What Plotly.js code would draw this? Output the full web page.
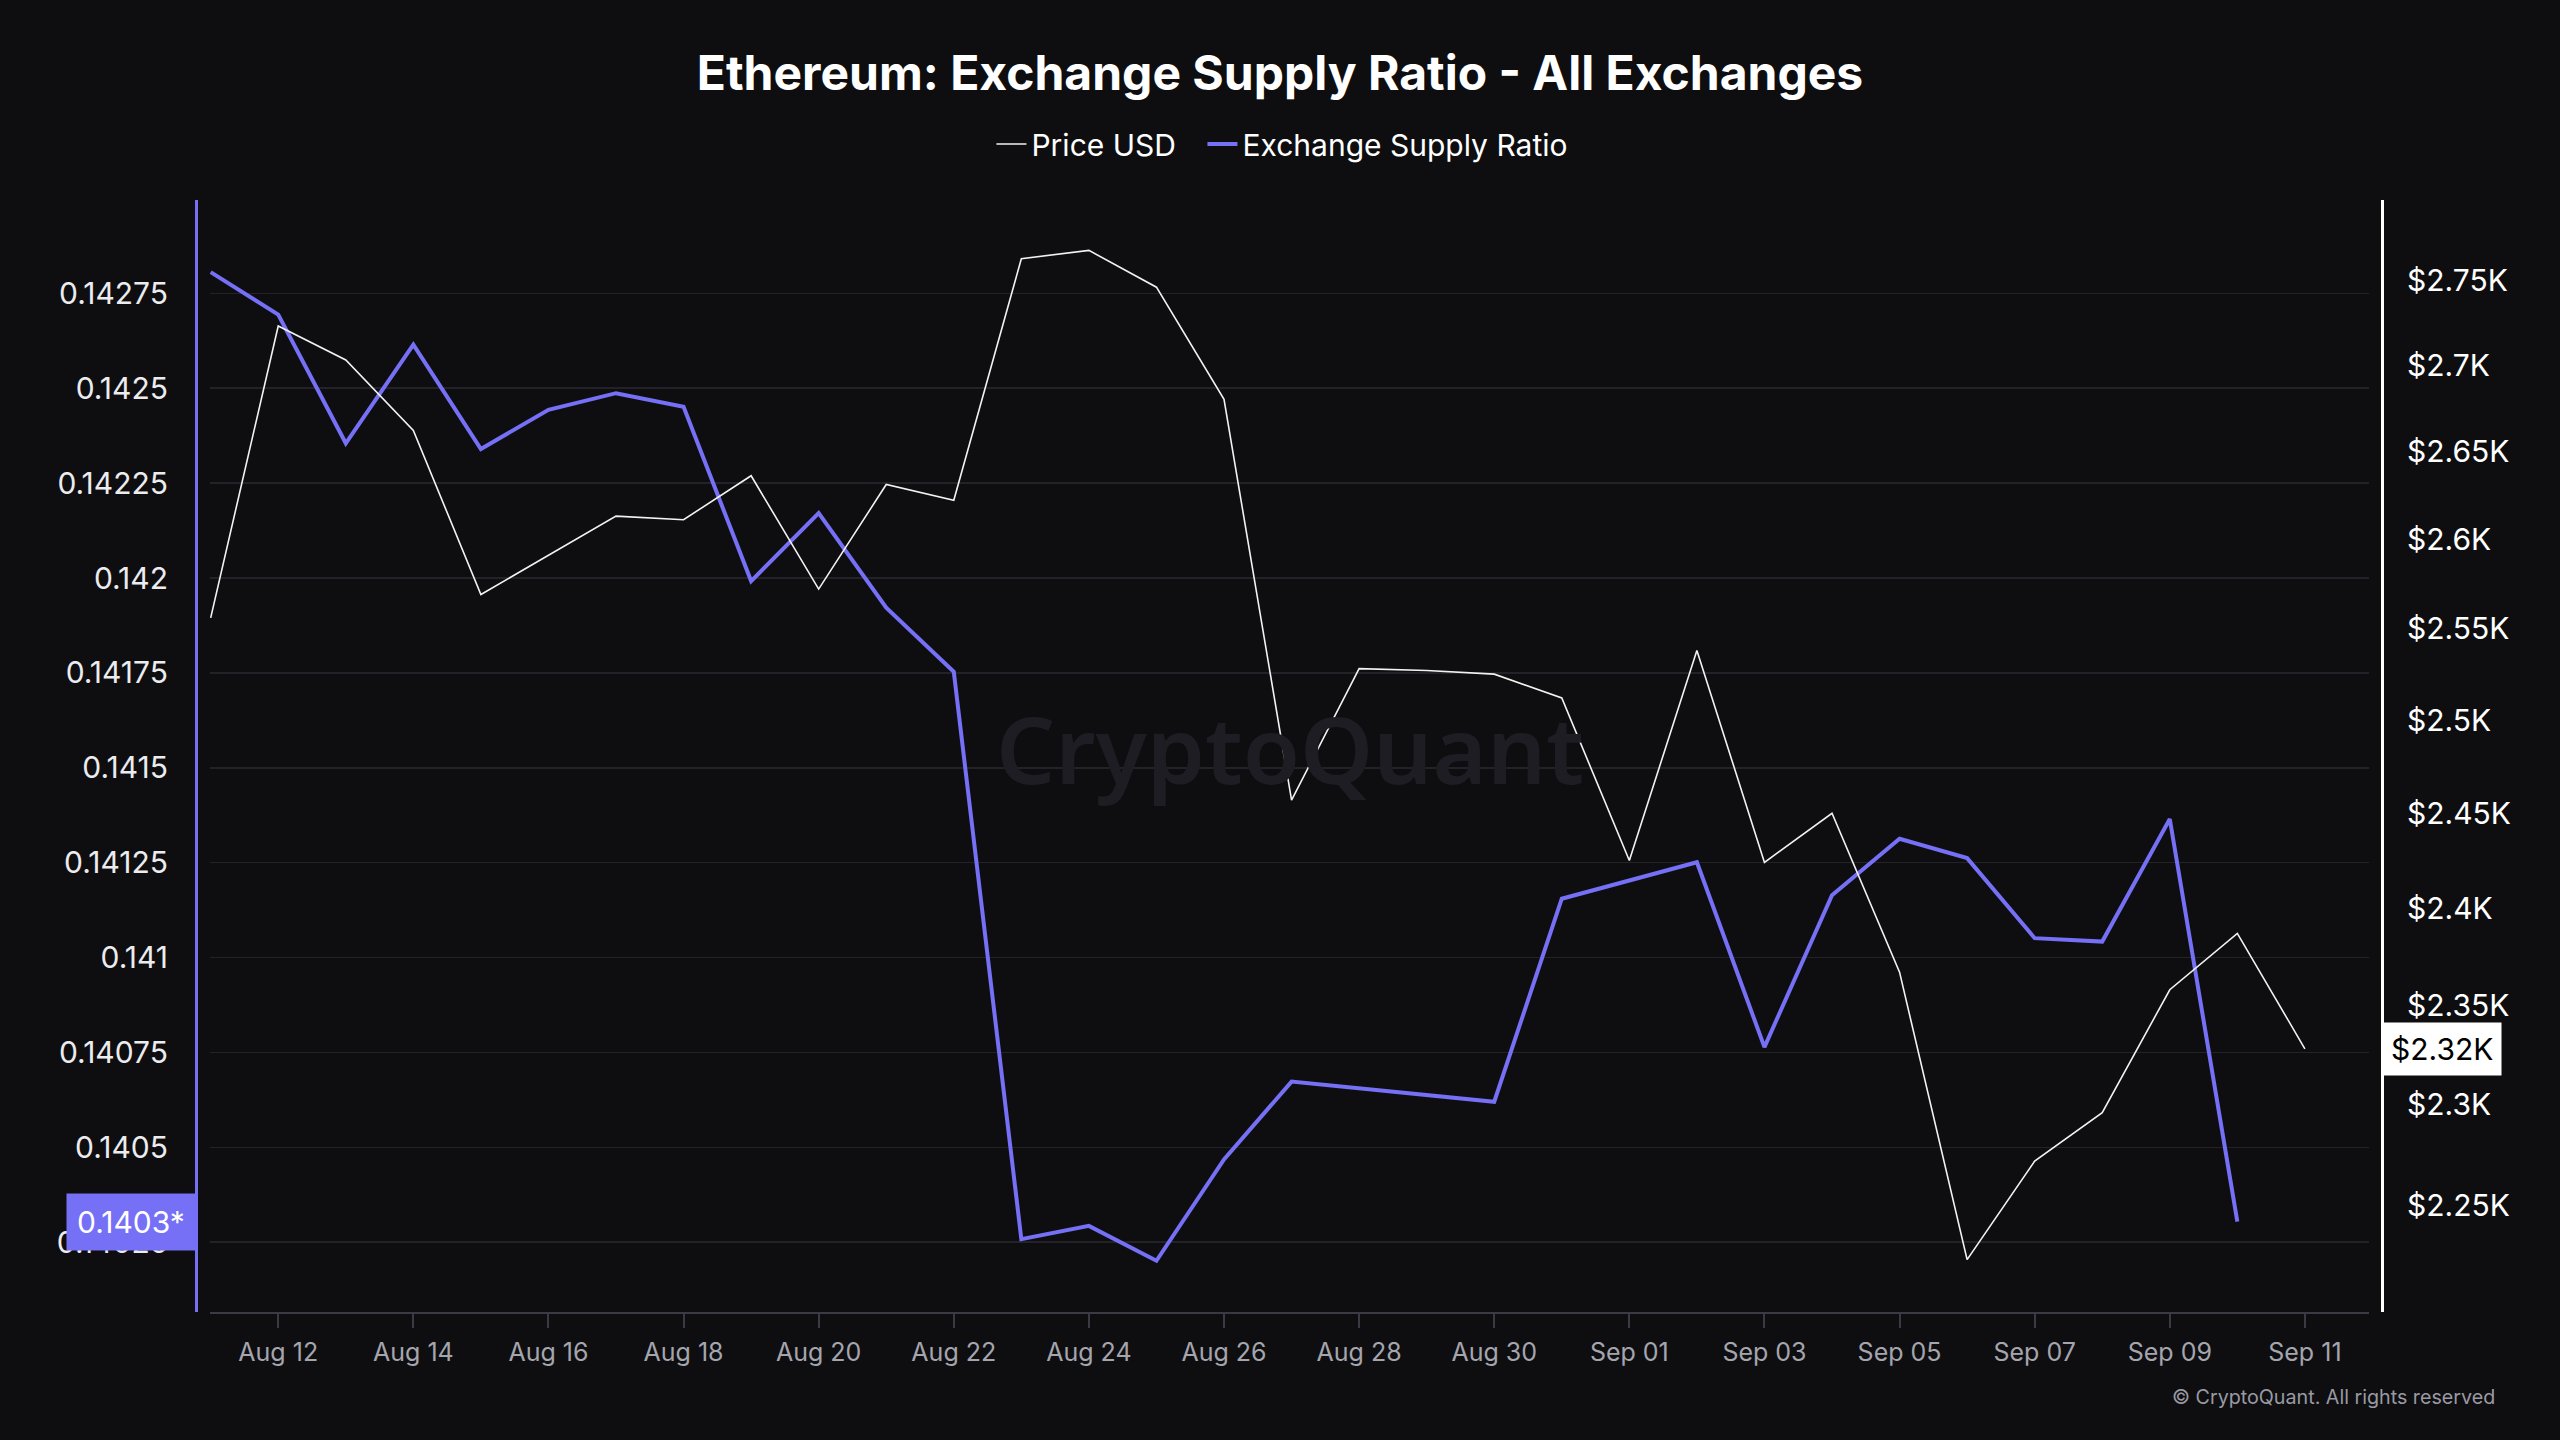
<!DOCTYPE html>
<html>
<head>
<meta charset="utf-8">
<script src="https://cdn.plot.ly/plotly-3.0.1.min.js"></script>
<style>
html,body{margin:0;padding:0;background:#0e0e11;}
#chart{width:2560px;height:1440px;}
</style>
</head>
<body>
<div id="chart"></div>
<script>
// ---- data ----
const priceDates = [
  '2024-08-11','2024-08-12','2024-08-13','2024-08-14','2024-08-15','2024-08-16','2024-08-17','2024-08-18',
  '2024-08-19','2024-08-20','2024-08-21','2024-08-22','2024-08-23','2024-08-24','2024-08-25','2024-08-26',
  '2024-08-27','2024-08-28','2024-08-29','2024-08-30','2024-08-31','2024-09-01','2024-09-02','2024-09-03',
  '2024-09-04','2024-09-05','2024-09-06','2024-09-07','2024-09-08','2024-09-09','2024-09-10','2024-09-11'
];
const priceUSD = [
  2556, 2723, 2703, 2662, 2569, 2591, 2613, 2611,
  2636, 2572, 2631, 2622, 2763, 2768, 2746, 2680,
  2457, 2528, 2527, 2525, 2512, 2425, 2538, 2424,
  2450, 2367, 2224, 2272, 2296, 2358, 2387, 2328
];
const ratioDates = priceDates.slice(0, 31);
const supplyRatio = [
  0.142806, 0.142694, 0.142355, 0.142615, 0.142340, 0.142443, 0.142487, 0.142451,
  0.141992, 0.142171, 0.141922, 0.141753, 0.140258, 0.140293, 0.140201, 0.140468,
  0.140673, 0.140656, 0.140639, 0.140620, 0.141155, 0.141202, 0.141251, 0.140764,
  0.141164, 0.141313, 0.141262, 0.141051, 0.141042, 0.141365, 0.140304
];
const leftTickVals = [0.14025,0.1405,0.14075,0.141,0.14125,0.1415,0.14175,0.142,0.14225,0.1425,0.14275];
const leftTickText = ['0.14025','0.1405','0.14075','0.141','0.14125','0.1415','0.14175','0.142','0.14225','0.1425','0.14275'];
const rightTickVals = [2250,2300,2350,2400,2450,2500,2550,2600,2650,2700,2750];
const rightTickText = ['$2.25K','$2.3K','$2.35K','$2.4K','$2.45K','$2.5K','$2.55K','$2.6K','$2.65K','$2.7K','$2.75K'];
const xTickVals = ['2024-08-12','2024-08-14','2024-08-16','2024-08-18','2024-08-20','2024-08-22','2024-08-24','2024-08-26',
  '2024-08-28','2024-08-30','2024-09-01','2024-09-03','2024-09-05','2024-09-07','2024-09-09','2024-09-11'];
const xTickText = ['Aug 12','Aug 14','Aug 16','Aug 18','Aug 20','Aug 22','Aug 24','Aug 26',
  'Aug 28','Aug 30','Sep 01','Sep 03','Sep 05','Sep 07','Sep 09','Sep 11'];

const PURPLE = '#7570f5';
const FONT = 'Inter, "Noto Sans", sans-serif';

const lastPrice = priceUSD[priceUSD.length - 1];
const lastRatio = supplyRatio[supplyRatio.length - 1];

const traces = [
  {
    x: priceDates, y: priceUSD, name: 'Price USD', type: 'scatter', mode: 'lines',
    yaxis: 'y2', line: {color: '#f2f2f2', width: 1.6}, legendwidth: 166
  },
  {
    x: ratioDates, y: supplyRatio, name: 'Exchange Supply Ratio', type: 'scatter', mode: 'lines',
    yaxis: 'y', line: {color: PURPLE, width: 4}
  }
];

const layout = {
  width: 2560, height: 1440,
  paper_bgcolor: '#0e0e11', plot_bgcolor: '#0e0e11',
  margin: {l: 196, r: 178, t: 200, b: 128},
  font: {family: FONT, color: '#ffffff'},
  showlegend: true,
  hovermode: false,
  title: {
    text: '<b>Ethereum: Exchange Supply Ratio - All Exchanges</b>',
    font: {family: FONT, size: 48, color: '#ffffff'},
    x: 0.5, xanchor: 'center', xref: 'container',
    y: 1 - 73/1440, yanchor: 'middle', yref: 'container'
  },
  legend: {
    orientation: 'h', x: 0.497, xanchor: 'center', y: 1.0504, yanchor: 'middle',
    font: {family: FONT, size: 30, color: '#ffffff'},
    bgcolor: 'rgba(0,0,0,0)', itemwidth: 30, tracegroupgap: 0
  },
  xaxis: {
    type: 'date',
    domain: [0.0062, 0.994],
    range: ['2024-08-10 23:36', '2024-09-11 22:44'],
    tickvals: xTickVals, ticktext: xTickText,
    tickfont: {family: FONT, size: 25, color: '#a5a5ae'},
    ticks: 'outside', ticklen: 14, tickwidth: 2, tickcolor: '#3a3a44',
    showline: true, linecolor: '#3a3a44', linewidth: 2,
    showgrid: false, zeroline: false, ticklabelstandoff: 3
  },
  yaxis: {
    range: [0.140066, 0.142996],
    anchor: 'free', position: 0,
    tickvals: leftTickVals, ticktext: leftTickText,
    tickfont: {family: FONT, size: 30, color: '#ececef'},
    showline: true, linecolor: PURPLE, linewidth: 3,
    showgrid: true, gridcolor: '#222228', gridwidth: 1.5,
    zeroline: false, ticks: '', ticklabelstandoff: 21
  },
  yaxis2: {
    type: 'log',
    range: [3.34220, 3.44691],
    overlaying: 'y', anchor: 'free', position: 1, side: 'right',
    tickvals: rightTickVals, ticktext: rightTickText,
    tickfont: {family: FONT, size: 30, color: '#ffffff'},
    showline: true, linecolor: '#ffffff', linewidth: 3,
    showgrid: false, zeroline: false, ticks: '', ticklabelstandoff: 17
  },
  annotations: [
    {
      text: 'CryptoQuant', xref: 'paper', yref: 'paper', x: 0.5005, y: 0.507,
      xanchor: 'center', yanchor: 'middle', showarrow: false,
      font: {family: '"Noto Sans", sans-serif', size: 93, color: '#1d1d23', weight: 600}
    },
    {
      text: '$' + (Math.floor(lastPrice / 10) / 100).toFixed(2) + 'K',
      xref: 'paper', yref: 'y2', x: 1, y: Math.log10(lastPrice),
      xanchor: 'left', yanchor: 'middle', showarrow: false,
      bgcolor: '#ffffff', borderpad: 8,
      font: {family: FONT, size: 30, color: '#000000'}
    },
    {
      text: lastRatio.toFixed(4) + '*',
      xref: 'paper', yref: 'y', x: 0, y: lastRatio,
      xanchor: 'right', yanchor: 'middle', showarrow: false,
      bgcolor: PURPLE, borderpad: 10,
      font: {family: FONT, size: 30, color: '#ffffff'}
    },
    {
      text: '© CryptoQuant. All rights reserved',
      xref: 'paper', yref: 'paper', x: (2497 - 196) / 2186, y: (1312 - 1397) / 1112,
      xanchor: 'right', yanchor: 'middle', showarrow: false,
      font: {family: FONT, size: 19.7, color: '#9a9aa3'}
    }
  ]
};

Plotly.newPlot('chart', traces, layout, {displayModeBar: false, staticPlot: true});
</script>
</body>
</html>
